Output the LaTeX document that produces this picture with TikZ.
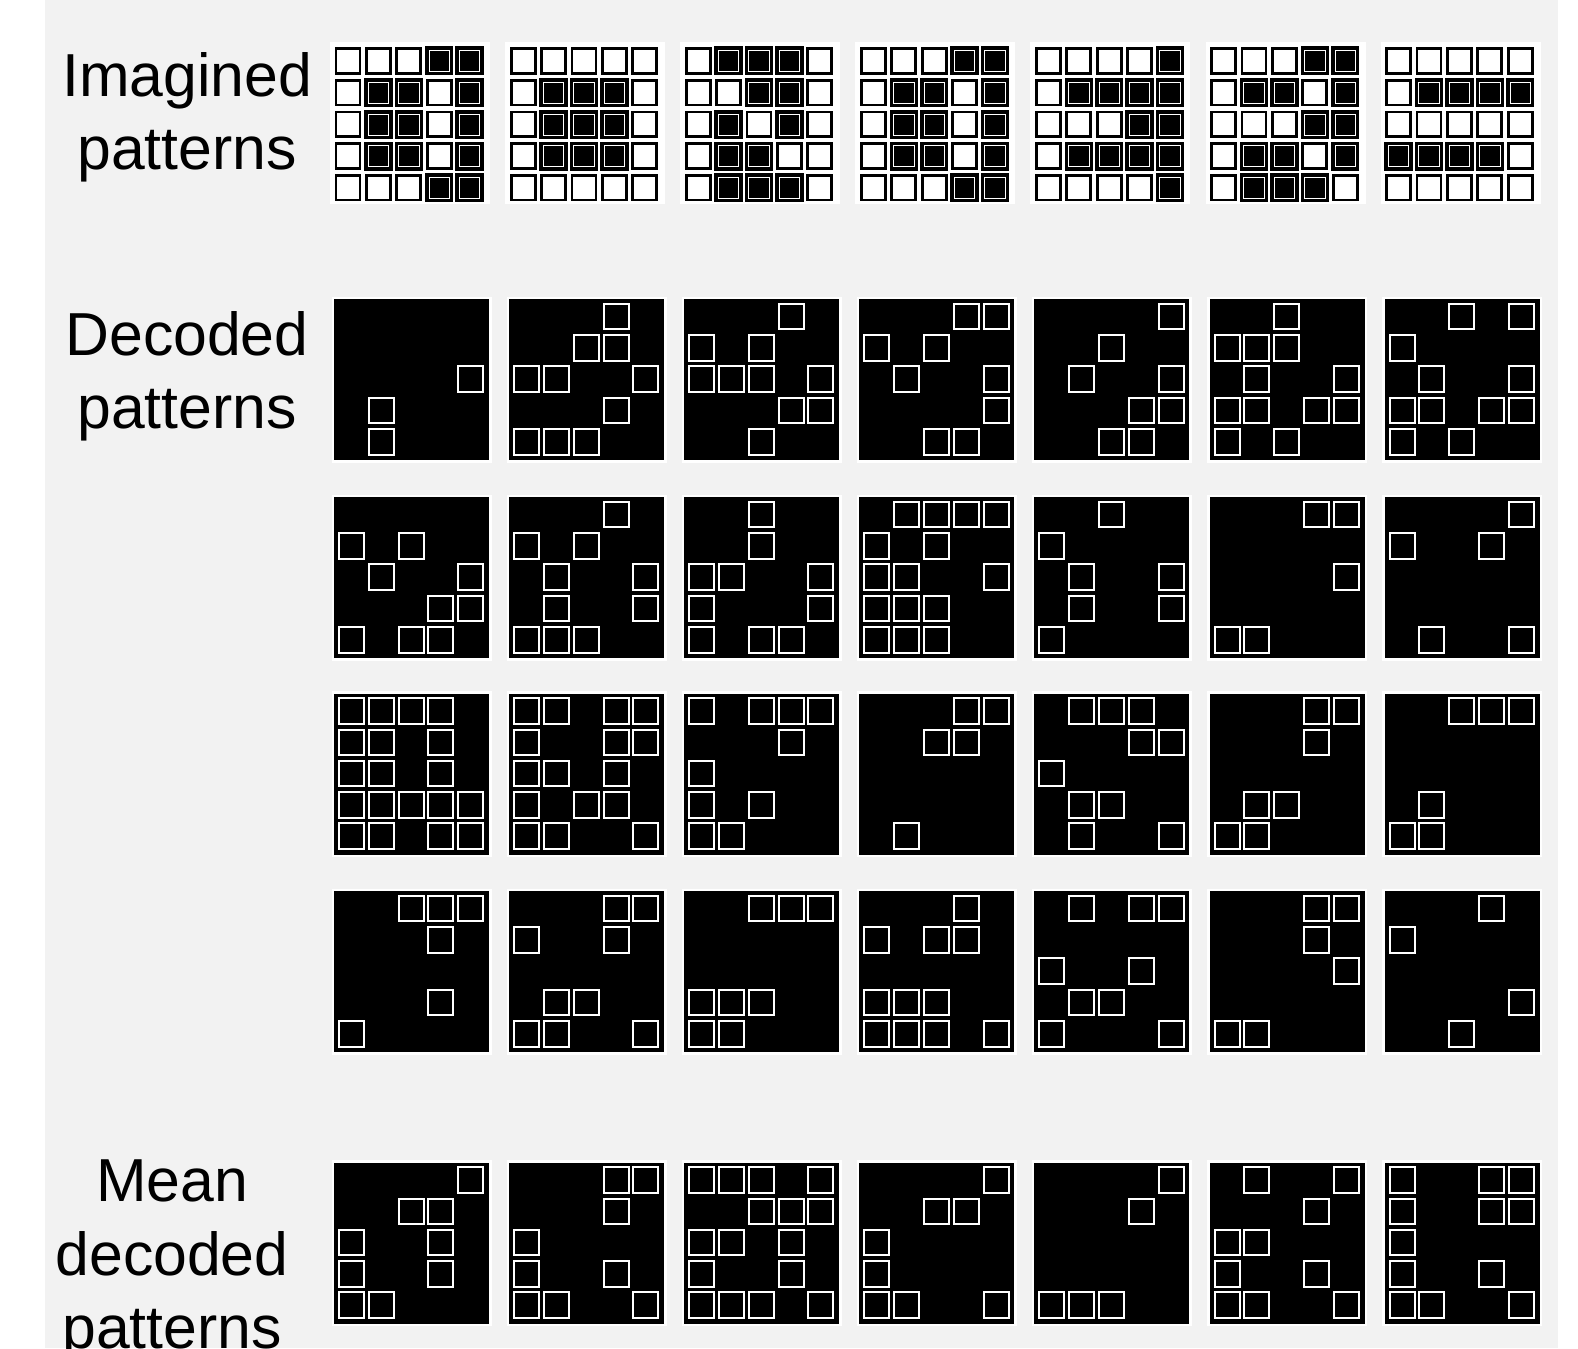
\documentclass[tikz,border=0pt]{standalone}
\usepackage{fontspec}
\setmainfont{Liberation Sans}
\definecolor{panelgray}{HTML}{F2F2F2}

\tikzset{
  lbl/.style={anchor=base, inner sep=0pt, font=\fontsize{60.7}{73}\selectfont},
  cellon/.style={fill=black, draw=black, line width=4.4pt},
  celloff/.style={fill=white, draw=black, line width=2.8pt},
  decsq/.style={draw=white, line width=2pt},
}

% imagined grid: #1 left, #2 top, #3 rows of bits
\newcommand{\imagpat}[3]{%
  \fill[white] (#1-4,#2-4) rectangle (#1+156,#2+158);
  \foreach \row [count=\j] in #3 {
    \foreach \bit [count=\i] in \row {
      \pgfmathsetmacro{\cellx}{#1+14+(\i-1)*30.4}
      \pgfmathsetmacro{\celly}{#2+15+(\j-1)*31.7}
      \ifnum\bit=1\relax
        \draw[cellon] (\cellx-12,\celly-12.3) rectangle (\cellx+12,\celly+12.3);
        \draw[white, line width=0.7pt] (\cellx-10.2,\celly-10.5) rectangle (\cellx+10.2,\celly+10.5);
      \else
        \draw[celloff] (\cellx-12,\celly-12.3) rectangle (\cellx+12,\celly+12.3);
      \fi
    }
  }
}

% decoded grid: #1 left, #2 top, #3 rows of bits
\newcommand{\decpat}[3]{%
  \fill[white] (#1-2.5,#2-2.5) rectangle (#1+157.5,#2+163.5);
  \fill[black] (#1,#2) rectangle (#1+155,#2+161);
  \foreach \row [count=\j] in #3 {
    \foreach \bit [count=\i] in \row {
      \ifnum\bit=1\relax
        \pgfmathsetmacro{\cellx}{#1+17.5+(\i-1)*29.8}
        \pgfmathsetmacro{\celly}{#2+17.5+(\j-1)*31.3}
        \draw[decsq] (\cellx-12.5,\celly-12.8) rectangle (\cellx+12.5,\celly+12.8);
      \fi
    }
  }
}

\begin{document}
\begin{tikzpicture}[x=1pt, y=-1pt]
  \useasboundingbox (0,0) rectangle (1578,1348);
  \clip (0,0) rectangle (1578,1348);
  \fill[panelgray] (45,0) rectangle (1558,1348);

  % row labels
  \node[lbl] (imag1) at (187,96.6) {Imagined};
  \node[lbl] (imag2) at (187,169.6) {patterns};
  \node[lbl] (dec1) at (187,355) {Decoded};
  \node[lbl] (dec2) at (187,428.5) {patterns};
  \node[lbl] (mean1) at (172,1201.5) {Mean};
  \node[lbl] (mean2) at (172,1275) {decoded};
  \node[lbl] (mean3) at (172,1348.5) {patterns};

  % imagined patterns
  \foreach \pat [count=\k] in {
    {{0,0,0,1,1},{0,1,1,0,1},{0,1,1,0,1},{0,1,1,0,1},{0,0,0,1,1}},
    {{0,0,0,0,0},{0,1,1,1,0},{0,1,1,1,0},{0,1,1,1,0},{0,0,0,0,0}},
    {{0,1,1,1,0},{0,0,1,1,0},{0,1,0,1,0},{0,1,1,0,0},{0,1,1,1,0}},
    {{0,0,0,1,1},{0,1,1,0,1},{0,1,1,0,1},{0,1,1,0,1},{0,0,0,1,1}},
    {{0,0,0,0,1},{0,1,1,1,1},{0,0,0,1,1},{0,1,1,1,1},{0,0,0,0,1}},
    {{0,0,0,1,1},{0,1,1,0,1},{0,0,0,1,1},{0,1,1,0,1},{0,1,1,1,0}},
    {{0,0,0,0,0},{0,1,1,1,1},{0,0,0,0,0},{1,1,1,1,0},{0,0,0,0,0}}} {
    \pgfmathsetmacro{\gx}{334+(\k-1)*175.1}
    \imagpat{\gx}{46}{\pat}
  }

  % decoded patterns, first row
  \foreach \pat [count=\k] in {
    {{0,0,0,0,0},{0,0,0,0,0},{0,0,0,0,1},{0,1,0,0,0},{0,1,0,0,0}},
    {{0,0,0,1,0},{0,0,1,1,0},{1,1,0,0,1},{0,0,0,1,0},{1,1,1,0,0}},
    {{0,0,0,1,0},{1,0,1,0,0},{1,1,1,0,1},{0,0,0,1,1},{0,0,1,0,0}},
    {{0,0,0,1,1},{1,0,1,0,0},{0,1,0,0,1},{0,0,0,0,1},{0,0,1,1,0}},
    {{0,0,0,0,1},{0,0,1,0,0},{0,1,0,0,1},{0,0,0,1,1},{0,0,1,1,0}},
    {{0,0,1,0,0},{1,1,1,0,0},{0,1,0,0,1},{1,1,0,1,1},{1,0,1,0,0}},
    {{0,0,1,0,1},{1,0,0,0,0},{0,1,0,0,1},{1,1,0,1,1},{1,0,1,0,0}}} {
    \pgfmathsetmacro{\gx}{334+(\k-1)*175.1}
    \decpat{\gx}{299}{\pat}
  }

  % second row
  \foreach \pat [count=\k] in {
    {{0,0,0,0,0},{1,0,1,0,0},{0,1,0,0,1},{0,0,0,1,1},{1,0,1,1,0}},
    {{0,0,0,1,0},{1,0,1,0,0},{0,1,0,0,1},{0,1,0,0,1},{1,1,1,0,0}},
    {{0,0,1,0,0},{0,0,1,0,0},{1,1,0,0,1},{1,0,0,0,1},{1,0,1,1,0}},
    {{0,1,1,1,1},{1,0,1,0,0},{1,1,0,0,1},{1,1,1,0,0},{1,1,1,0,0}},
    {{0,0,1,0,0},{1,0,0,0,0},{0,1,0,0,1},{0,1,0,0,1},{1,0,0,0,0}},
    {{0,0,0,1,1},{0,0,0,0,0},{0,0,0,0,1},{0,0,0,0,0},{1,1,0,0,0}},
    {{0,0,0,0,1},{1,0,0,1,0},{0,0,0,0,0},{0,0,0,0,0},{0,1,0,0,1}}} {
    \pgfmathsetmacro{\gx}{334+(\k-1)*175.1}
    \decpat{\gx}{497}{\pat}
  }

  % third row
  \foreach \pat [count=\k] in {
    {{1,1,1,1,0},{1,1,0,1,0},{1,1,0,1,0},{1,1,1,1,1},{1,1,0,1,1}},
    {{1,1,0,1,1},{1,0,0,1,1},{1,1,0,1,0},{1,0,1,1,0},{1,1,0,0,1}},
    {{1,0,1,1,1},{0,0,0,1,0},{1,0,0,0,0},{1,0,1,0,0},{1,1,0,0,0}},
    {{0,0,0,1,1},{0,0,1,1,0},{0,0,0,0,0},{0,0,0,0,0},{0,1,0,0,0}},
    {{0,1,1,1,0},{0,0,0,1,1},{1,0,0,0,0},{0,1,1,0,0},{0,1,0,0,1}},
    {{0,0,0,1,1},{0,0,0,1,0},{0,0,0,0,0},{0,1,1,0,0},{1,1,0,0,0}},
    {{0,0,1,1,1},{0,0,0,0,0},{0,0,0,0,0},{0,1,0,0,0},{1,1,0,0,0}}} {
    \pgfmathsetmacro{\gx}{334+(\k-1)*175.1}
    \decpat{\gx}{693.5}{\pat}
  }

  % fourth row
  \foreach \pat [count=\k] in {
    {{0,0,1,1,1},{0,0,0,1,0},{0,0,0,0,0},{0,0,0,1,0},{1,0,0,0,0}},
    {{0,0,0,1,1},{1,0,0,1,0},{0,0,0,0,0},{0,1,1,0,0},{1,1,0,0,1}},
    {{0,0,1,1,1},{0,0,0,0,0},{0,0,0,0,0},{1,1,1,0,0},{1,1,0,0,0}},
    {{0,0,0,1,0},{1,0,1,1,0},{0,0,0,0,0},{1,1,1,0,0},{1,1,1,0,1}},
    {{0,1,0,1,1},{0,0,0,0,0},{1,0,0,1,0},{0,1,1,0,0},{1,0,0,0,1}},
    {{0,0,0,1,1},{0,0,0,1,0},{0,0,0,0,1},{0,0,0,0,0},{1,1,0,0,0}},
    {{0,0,0,1,0},{1,0,0,0,0},{0,0,0,0,0},{0,0,0,0,1},{0,0,1,0,0}}} {
    \pgfmathsetmacro{\gx}{334+(\k-1)*175.1}
    \decpat{\gx}{891}{\pat}
  }

  % mean decoded patterns
  \foreach \pat [count=\k] in {
    {{0,0,0,0,1},{0,0,1,1,0},{1,0,0,1,0},{1,0,0,1,0},{1,1,0,0,0}},
    {{0,0,0,1,1},{0,0,0,1,0},{1,0,0,0,0},{1,0,0,1,0},{1,1,0,0,1}},
    {{1,1,1,0,1},{0,0,1,1,1},{1,1,0,1,0},{1,0,0,1,0},{1,1,1,0,1}},
    {{0,0,0,0,1},{0,0,1,1,0},{1,0,0,0,0},{1,0,0,0,0},{1,1,0,0,1}},
    {{0,0,0,0,1},{0,0,0,1,0},{0,0,0,0,0},{0,0,0,0,0},{1,1,1,0,0}},
    {{0,1,0,0,1},{0,0,0,1,0},{1,1,0,0,0},{1,0,0,1,0},{1,1,0,0,1}},
    {{1,0,0,1,1},{1,0,0,1,1},{1,0,0,0,0},{1,0,0,1,0},{1,1,0,0,1}}} {
    \pgfmathsetmacro{\gx}{334+(\k-1)*175.1}
    \decpat{\gx}{1162.5}{\pat}
  }
\end{tikzpicture}
\end{document}
